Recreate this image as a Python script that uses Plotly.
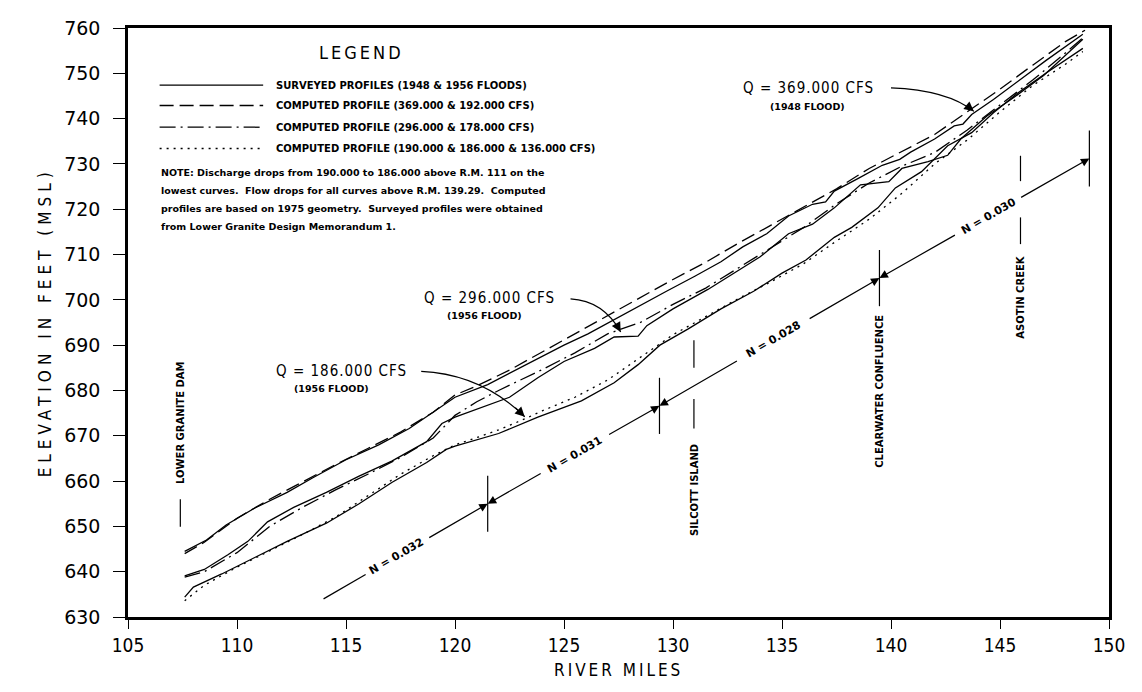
import plotly.graph_objects as go

# ---- water surface profiles (river mile, elevation ft MSL) ----
# surveyed 1948 flood (upper solid)
surv_hi_x = [107.6, 108.6, 109.5, 110.8, 112.3, 113.5, 115.0, 116.5, 117.9, 119.1, 120.0, 121.5, 122.8,
             123.8, 125.0, 126.1, 127.2, 128.5, 129.7, 131.0, 132.2, 133.2, 134.3, 135.3, 136.4, 137.0,
             137.4, 138.5, 139.6, 140.4, 140.9, 142.0, 142.9, 143.3, 143.7, 144.7, 145.9, 147.1, 148.8]
surv_hi_y = [644.5, 647.0, 650.3, 654.0, 657.5, 660.8, 664.7, 668.0, 671.6, 675.6, 678.5, 681.3, 684.6,
             687.1, 690.0, 692.5, 695.4, 698.7, 701.9, 705.2, 708.4, 711.7, 714.6, 718.5, 721.1, 721.6,
             724.0, 726.8, 729.7, 731.0, 732.6, 735.5, 738.4, 738.8, 740.9, 744.2, 748.5, 752.8, 758.6]

# surveyed 1956 flood (middle solid)
surv_mid_x = [107.6, 108.5, 109.6, 110.5, 111.4, 112.6, 114.1, 115.6, 117.1, 118.7, 119.4, 120.0, 122.5,
              123.8, 125.0, 126.4, 127.3, 128.4, 128.8, 130.0, 131.6, 132.9, 134.0, 135.3, 136.4, 137.4,
              138.6, 139.9, 140.5, 141.7, 142.6, 143.2, 144.4, 145.5, 147.0, 148.8]
surv_mid_y = [639.1, 640.5, 643.8, 646.7, 651.0, 654.2, 657.5, 661.1, 664.4, 668.7, 672.7, 674.1, 678.5,
              682.8, 686.4, 689.3, 691.8, 692.0, 694.3, 698.0, 702.3, 706.3, 709.5, 714.6, 716.7, 720.3,
              725.4, 726.1, 729.0, 730.5, 731.9, 735.5, 740.6, 744.2, 749.5, 757.5]

# surveyed lowest profile (lower solid)
surv_lo_x = [107.6, 108.0, 109.3, 110.8, 112.3, 114.1, 115.6, 117.1, 118.7, 119.6, 120.0, 122.0, 123.8,
             125.8, 127.3, 128.4, 129.4, 130.7, 132.2, 133.7, 135.0, 136.1, 137.4, 138.2, 139.4, 140.2,
             141.4, 142.6, 143.7, 144.7, 145.8, 147.1, 148.8]
surv_lo_y = [634.4, 636.6, 639.5, 643.1, 646.7, 650.7, 655.0, 659.7, 664.1, 667.0, 667.7, 670.5, 674.1,
             677.7, 681.7, 685.7, 690.0, 693.6, 698.0, 701.9, 705.9, 708.8, 713.8, 716.0, 720.3, 724.7,
             728.3, 734.0, 736.9, 741.3, 745.6, 750.0, 755.5]

# computed profile 369,000 & 192,000 cfs (dashed)
comp_369_x = [107.6, 108.5, 110.0, 111.5, 113.0, 114.5, 116.0, 117.5, 119.0, 120.0, 121.0, 122.5, 124.0,
              125.5, 127.0, 128.5, 130.0, 131.5, 133.0, 134.5, 136.0, 137.5, 139.0, 140.5, 142.0, 143.5,
              145.0, 146.5, 148.0, 148.9]
comp_369_y = [644.0, 646.5, 651.8, 656.0, 659.8, 663.6, 667.2, 670.8, 675.2, 679.0, 681.0, 684.5, 688.5,
              692.5, 696.5, 700.5, 704.5, 708.3, 712.5, 716.5, 720.5, 724.5, 729.0, 732.8, 736.5, 741.5,
              746.5, 751.8, 757.0, 759.5]

# computed profile 296,000 & 178,000 cfs (dash-dot)
comp_296_x = [107.6, 108.5, 110.0, 111.5, 113.0, 114.5, 116.0, 117.5, 119.0, 120.0, 121.0, 122.0, 123.0,
              124.0, 125.5, 127.0, 128.5, 130.0, 131.5, 133.0, 134.5, 136.0, 137.5, 139.0, 140.5, 142.0,
              143.5, 145.0, 146.5, 148.0, 148.8]
comp_296_y = [638.8, 640.0, 644.2, 650.0, 654.2, 658.0, 661.5, 665.2, 669.5, 674.5, 677.5, 680.0, 682.3,
              684.6, 688.3, 692.5, 695.0, 699.0, 702.6, 707.0, 711.5, 716.0, 721.2, 725.8, 729.5, 732.5,
              737.5, 743.0, 748.5, 754.5, 757.8]

# computed profile 190,000 & 186,000 & 136,000 cfs (dotted)
comp_190_x = [107.6, 108.5, 110.0, 111.5, 113.0, 114.5, 116.0, 117.5, 119.0, 120.0, 121.0, 122.0, 123.0,
              124.0, 125.5, 127.0, 128.5, 130.0, 131.5, 133.0, 134.5, 136.0, 137.5, 139.0, 140.5, 142.0,
              143.5, 145.0, 146.5, 148.0, 148.8]
comp_190_y = [633.6, 637.0, 641.0, 644.6, 648.2, 652.0, 656.8, 661.5, 665.6, 668.0, 669.6, 671.3, 673.3,
              675.5, 678.5, 682.3, 687.3, 692.3, 696.3, 700.3, 704.0, 708.0, 713.0, 717.8, 723.5, 730.0,
              735.3, 741.5, 747.3, 752.0, 754.8]

# Manning's n reaches: start + boundary stations on the reference line
reach_x = [113.97, 121.5, 129.38, 139.47, 149.1]
reach_y = [634.0, 655.0, 676.6, 704.8, 731.2]
reach_n = ["N = 0.032", "N = 0.031", "N = 0.028", "N = 0.030"]

# landmarks
place_names = ["LOWER GRANITE DAM", "SILCOTT ISLAND", "CLEARWATER CONFLUENCE", "ASOTIN CREEK"]
place_mile = [107.4, 130.96, 139.47, 145.94]

x_ticks = list(range(105, 151, 5))
y_ticks = list(range(630, 761, 10))

legend_labels = ["SURVEYED PROFILES (1948 & 1956 FLOODS)",
                 "COMPUTED PROFILE (369.000 & 192.000 CFS)",
                 "COMPUTED PROFILE (296.000 & 178.000 CFS)",
                 "COMPUTED PROFILE (190.000 & 186.000 & 136.000 CFS)"]
note_lines = ["NOTE: Discharge drops from 190.000 to 186.000 above R.M. 111 on the",
              "lowest curves.  Flow drops for all curves above R.M. 139.29.  Computed",
              "profiles are based on 1975 geometry.  Surveyed profiles were obtained",
              "from Lower Granite Design Memorandum 1."]


def interp(x, xs, ys):
    for i in range(len(xs) - 1):
        if xs[i] <= x <= xs[i + 1]:
            t = (x - xs[i]) / (xs[i + 1] - xs[i])
            return ys[i] + t * (ys[i + 1] - ys[i])
    return ys[-1]


def spaced(txt, px):
    return f'<span style="letter-spacing:{px}px">{txt}</span>'


FONT = "DejaVu Sans"
NARROW = "Liberation Sans Narrow, DejaVu Sans Condensed, DejaVu Sans"
BLK = "black"
DASH = "14px,6px"
DASHDOT = "16px,5px,2px,5px"
DOT = "2px,5px"

fig = go.Figure()

line_w = 1.3
for xs, ys, dash in [(surv_hi_x, surv_hi_y, "solid"), (surv_mid_x, surv_mid_y, "solid"),
                     (surv_lo_x, surv_lo_y, "solid"), (comp_369_x, comp_369_y, DASH),
                     (comp_296_x, comp_296_y, DASHDOT), (comp_190_x, comp_190_y, DOT)]:
    fig.add_trace(go.Scatter(x=xs, y=ys, mode="lines", showlegend=False, hoverinfo="skip",
                             line=dict(color=BLK, width=line_w, dash=dash)))

shapes = []
annotations = []

# ---- legend (drawn inside plot) ----
leg_y = [747.4, 742.9, 738.1, 733.4]
for lab, yy, dash in zip(legend_labels, leg_y, ["solid", DASH, DASHDOT, DOT]):
    fig.add_trace(go.Scatter(x=[106.45, 111.2], y=[yy, yy], mode="lines", showlegend=False,
                             hoverinfo="skip", line=dict(color=BLK, width=line_w, dash=dash)))
    annotations.append(dict(x=111.7, y=yy, text=lab, showarrow=False, xanchor="left",
                            font=dict(family=FONT, size=10, color=BLK, weight="bold")))
annotations.append(dict(x=115.7, y=754.6, text=spaced("LEGEND", 3), showarrow=False,
                        font=dict(family=NARROW, size=18, color=BLK)))
for i, ln in enumerate(note_lines):
    annotations.append(dict(x=106.4, y=728.2 - i * 4.0, text=ln, showarrow=False, xanchor="left",
                            font=dict(family=FONT, size=9.5, color=BLK, weight="bold")))

# ---- Manning's n reference line with boundary arrows ----
gaps = [(115.9, 118.75), (124.0, 127.0), (133.0, 136.2), (143.0, 145.9)]
lab_x = [117.3, 125.5, 134.6, 144.45]
for i in range(4):
    x0, x1 = reach_x[i], reach_x[i + 1]
    g0, g1 = gaps[i]
    y_g0 = interp(g0, reach_x, reach_y)
    y_g1 = interp(g1, reach_x, reach_y)
    if i == 0:
        shapes.append(dict(type="line", xref="x", yref="y", x0=x0, y0=reach_y[i], x1=g0, y1=y_g0,
                           line=dict(color=BLK, width=1.2)))
    else:
        annotations.append(dict(x=x0, y=reach_y[i], ax=g0, ay=y_g0, axref="x", ayref="y", text="",
                                showarrow=True, arrowhead=2, arrowsize=1.4, arrowwidth=1.2,
                                arrowcolor=BLK))
    annotations.append(dict(x=x1, y=reach_y[i + 1], ax=g1, ay=y_g1, axref="x", ayref="y", text="",
                            showarrow=True, arrowhead=2, arrowsize=1.4, arrowwidth=1.2,
                            arrowcolor=BLK))
    annotations.append(dict(x=lab_x[i], y=interp(lab_x[i], reach_x, reach_y), text=reach_n[i],
                            showarrow=False, textangle=-30,
                            font=dict(family=FONT, size=11, color=BLK, weight="bold")))

# boundary ticks across the n line
for xb, yb in zip(reach_x[1:], reach_y[1:]):
    shapes.append(dict(type="line", xref="x", yref="y", x0=xb, x1=xb, y0=yb - 6.2, y1=yb + 6.2,
                       line=dict(color=BLK, width=1.2)))

# ---- landmarks ----
place_y = [672.9, 658.0, 679.8, 700.8]
for name, xm, yc in zip(place_names, place_mile, place_y):
    annotations.append(dict(x=xm, y=yc, text=name, showarrow=False, textangle=-90,
                            font=dict(family=FONT, size=10, color=BLK, weight="bold")))
seg_list = [(107.4, 649.9, 656.0), (130.96, 685.0, 691.1), (130.96, 671.6, 678.1),
            (145.94, 726.2, 731.8), (145.94, 712.3, 718.2)]
for xm, ya, yb in seg_list:
    shapes.append(dict(type="line", xref="x", yref="y", x0=xm, x1=xm, y0=ya, y1=yb,
                       line=dict(color=BLK, width=1.2)))

# ---- discharge callouts with curved arrows ----
callouts = [
    ("Q = 369.000 CFS", "(1948 FLOOD)", (133.1, 746.8), (134.35, 742.7),
     (140.0, 746.8), (142.6, 746.3), (143.8, 741.6)),
    ("Q = 296.000 CFS", "(1956 FLOOD)", (118.5, 700.4), (119.55, 696.5),
     (125.3, 700.2), (126.8, 699.8), (127.6, 692.9)),
    ("Q = 186.000 CFS", "(1956 FLOOD)", (111.7, 684.2), (112.5, 680.5),
     (118.45, 684.2), (121.2, 683.6), (123.2, 674.2)),
]
for big, small, p_big, p_small, p0, pc, p1 in callouts:
    annotations.append(dict(x=p_big[0], y=p_big[1], text=spaced(big, 1), showarrow=False,
                            xanchor="left", font=dict(family=NARROW, size=15, color=BLK)))
    annotations.append(dict(x=p_small[0], y=p_small[1], text=small, showarrow=False, xanchor="left",
                            font=dict(family=FONT, size=9.5, color=BLK, weight="bold")))
    shapes.append(dict(type="path", xref="x", yref="y",
                       path=f"M {p0[0]},{p0[1]} Q {pc[0]},{pc[1]} {p1[0]},{p1[1]}",
                       line=dict(color=BLK, width=1.2)))
    bx = p1[0] + 0.25 * (pc[0] - p1[0])
    by = p1[1] + 0.25 * (pc[1] - p1[1])
    annotations.append(dict(x=p1[0], y=p1[1], ax=bx, ay=by, axref="x", ayref="y", text="",
                            showarrow=True, arrowhead=2, arrowsize=1.6, arrowwidth=1.2,
                            arrowcolor=BLK))

# ---- axis titles ----
annotations.append(dict(xref="paper", yref="paper", x=-0.097, y=0.5,
                        text=spaced("ELEVATION IN FEET (MSL)", 5),
                        showarrow=False, textangle=-90,
                        font=dict(family=NARROW, size=17, color=BLK)))
annotations.append(dict(xref="paper", yref="paper", x=0.5, y=-0.09,
                        text=spaced("RIVER MILES", 3), showarrow=False, yanchor="middle",
                        font=dict(family=NARROW, size=17, color=BLK)))

# page body adds an 8px offset; size the figure so the plot box lands at 128..1116 x 17..617
fig.update_layout(
    width=1126, height=676, autosize=False,
    margin=dict(l=120, r=18, t=9, b=67),
    paper_bgcolor="white", plot_bgcolor="white",
    shapes=shapes, annotations=annotations,
    xaxis=dict(range=[105, 150], tickvals=x_ticks, showgrid=False, zeroline=False,
               showline=True, linecolor=BLK, linewidth=2.5, mirror=True,
               ticks="outside", ticklen=9, tickwidth=1.3, tickcolor=BLK,
               ticklabelstandoff=0,
               tickfont=dict(family=NARROW, size=19, color=BLK)),
    yaxis=dict(range=[630, 760], tickvals=y_ticks, showgrid=False, zeroline=False,
               showline=True, linecolor=BLK, linewidth=2.5, mirror=True,
               ticks="outside", ticklen=12, tickwidth=1.3, tickcolor=BLK,
               ticklabelstandoff=9,
               tickfont=dict(family=FONT, size=19, color=BLK)),
)

fig.write_html("out.html")
